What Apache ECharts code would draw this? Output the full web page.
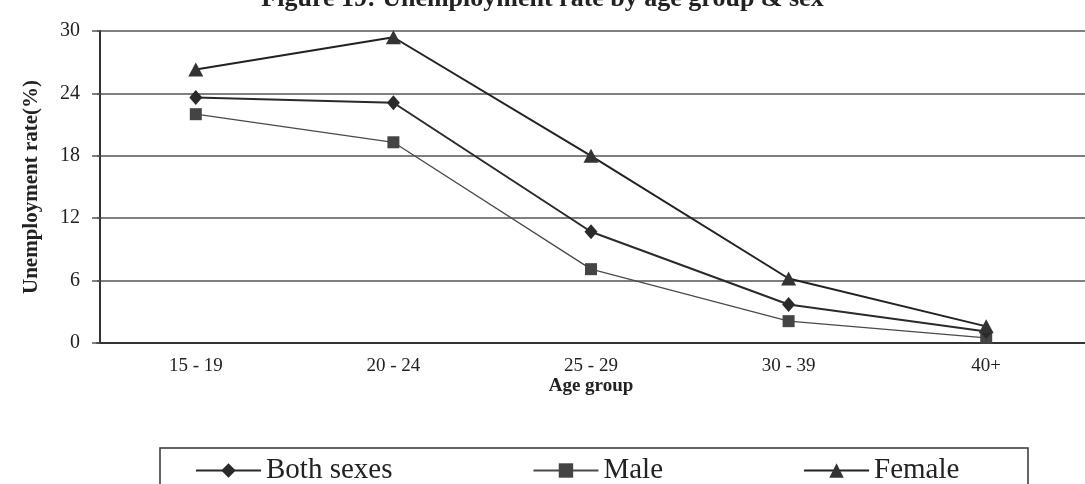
<!DOCTYPE html>
<html>
<head>
<meta charset="utf-8">
<script src="https://cdn.jsdelivr.net/npm/echarts@6/dist/echarts.min.js"></script>
<style>
  html, body { margin: 0; padding: 0; background: #fff; }
  #chart { width: 1085px; height: 484px; }
</style>
</head>
<body>
<div id="chart"></div>
<script>
const titleText = 'Figure 19: Unemployment rate by age group & sex';
const categories = ['15 - 19', '20 - 24', '25 - 29', '30 - 39', '40+'];
const bothSexes = [23.6, 23.1, 10.7, 3.7, 1.1];
const male = [22.0, 19.3, 7.1, 2.1, 0.5];
const female = [26.3, 29.4, 18.0, 6.2, 1.6];
const yTicks = [0, 6, 12, 18, 24, 30];

const serif = '"Liberation Serif", "DejaVu Serif", serif';
const chart = echarts.init(document.getElementById('chart'), null, { renderer: 'canvas' });

chart.setOption({
  backgroundColor: '#ffffff',
  animation: false,
  title: {
    text: titleText,
    left: 'center',
    top: -19,
    textStyle: { fontFamily: serif, fontSize: 26, fontWeight: 'bold', color: '#222' }
  },
  graphic: [{
    type: 'rect',
    shape: { x: 160, y: 448, width: 868, height: 60 },
    style: { fill: 'none', stroke: '#333', lineWidth: 1.5 },
    silent: true
  }],
  legend: {
    left: 190,
    top: 451,
    itemGap: 140,
    itemWidth: 65,
    itemHeight: 18,
    textStyle: { fontFamily: serif, fontSize: 29, color: '#222' },
    data: ['Both sexes', 'Male', 'Female']
  },
  grid: { left: 97, right: -10, top: 31, bottom: 141, containLabel: false },
  xAxis: {
    type: 'category',
    data: categories,
    boundaryGap: true,
    name: 'Age group',
    nameLocation: 'middle',
    nameGap: 34,
    nameMoveOverlap: false,
    nameTextStyle: { fontFamily: serif, fontSize: 19, fontWeight: 'bold', color: '#222' },
    axisLine: { show: true, lineStyle: { color: '#333', width: 2 } },
    axisTick: { show: false },
    axisLabel: { fontFamily: serif, fontSize: 19, color: '#222', margin: 14 },
    splitLine: { show: false }
  },
  yAxis: {
    type: 'value',
    min: yTicks[0],
    max: yTicks[yTicks.length - 1],
    interval: 6,
    offset: -3,
    name: 'Unemployment rate(%)',
    nameLocation: 'middle',
    nameRotate: 90,
    nameGap: 58,
    nameTextStyle: { fontFamily: serif, fontSize: 21, fontWeight: 'bold', color: '#222' },
    axisLine: { show: true, lineStyle: { color: '#333', width: 2 } },
    axisTick: { show: true, length: 8, lineStyle: { color: '#555', width: 1.5 } },
    axisLabel: { fontFamily: serif, fontSize: 20, color: '#222', margin: 20 },
    splitLine: { show: true, lineStyle: { color: '#555', width: 1.5 } }
  },
  series: [
    {
      name: 'Both sexes',
      type: 'line',
      data: bothSexes,
      symbol: 'diamond',
      symbolSize: [13, 15],
      lineStyle: { color: '#2a2a2a', width: 2 },
      itemStyle: { color: '#2a2a2a' },
      z: 3
    },
    {
      name: 'Male',
      type: 'line',
      data: male,
      symbol: 'rect',
      symbolSize: 12,
      lineStyle: { color: '#4a4a4a', width: 1.3 },
      itemStyle: { color: '#444' },
      z: 2
    },
    {
      name: 'Female',
      type: 'line',
      data: female,
      symbol: 'triangle',
      symbolSize: [15, 14],
      lineStyle: { color: '#222', width: 2 },
      itemStyle: { color: '#333' },
      z: 4
    }
  ]
});
</script>
</body>
</html>
